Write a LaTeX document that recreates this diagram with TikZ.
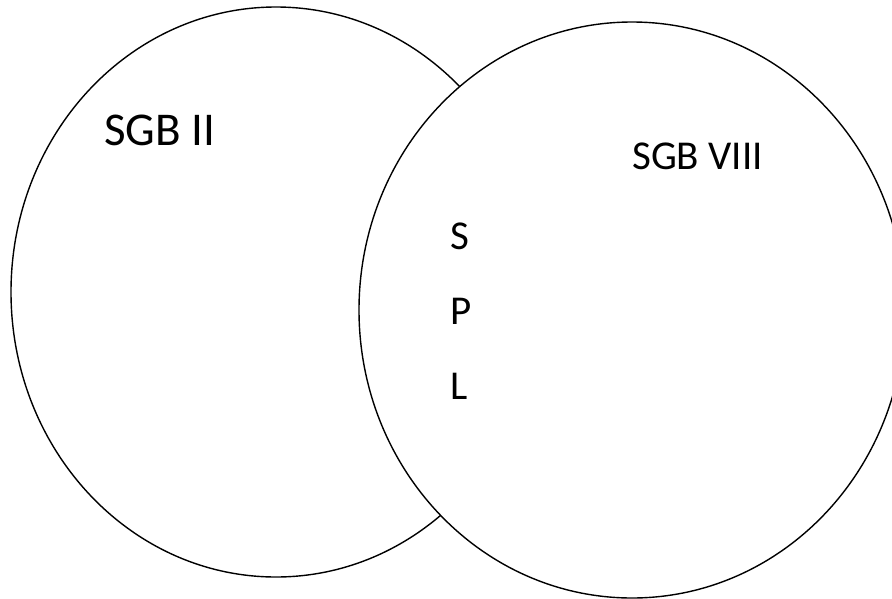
\documentclass[tikz,border=0pt]{standalone}
\usepackage{fontspec}
\setmainfont{Carlito}
\begin{document}
\begin{tikzpicture}[x=1pt,y=-1pt,
  setline/.style={draw=black,line width=1.4pt},
  lbl/.style={font=\fontsize{41}{45}\selectfont,inner sep=0pt,anchor=west},
  biglbl/.style={lbl,font=\fontsize{47}{50}\selectfont}]
\useasboundingbox (0,0) rectangle (892,598);
\draw[setline] (276,292) ellipse [x radius=265, y radius=285];
\draw[setline,fill=white] (632,310) ellipse [x radius=273, y radius=288];
\node[biglbl] (sgb2) at (104,130) {SGB II};
\node[lbl] (sgb8) at (632,156) {SGB VIII};
\node[lbl] (s) at (450,236) {S};
\node[lbl] (p) at (450,311) {P};
\node[lbl] (l) at (450,386) {L};
\end{tikzpicture}
\end{document}
